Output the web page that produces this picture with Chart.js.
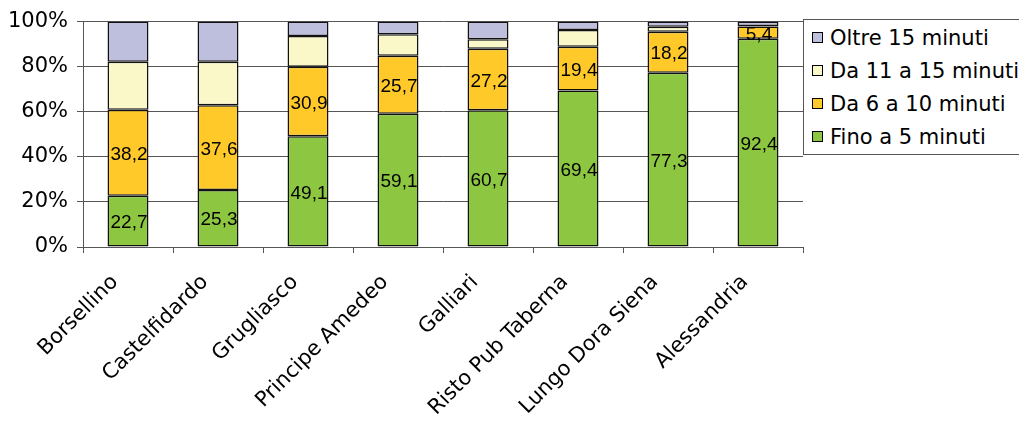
<!DOCTYPE html>
<html>
<head>
<meta charset="utf-8">
<script src="https://cdn.jsdelivr.net/npm/chart.js@4"></script>
<style>
html, body { margin: 0; padding: 0; background: #fff; overflow: hidden; }
#wrap { position: relative; width: 1019px; height: 425px; }
#legend {
    position: absolute; left: 803px; top: 19px; width: 240px; height: 136px;
    border: 1px solid #555; background: #fff; box-sizing: border-box;
    font-family: "DejaVu Sans"; font-size: 21px; color: #000;
}
#legend .row { height: 33px; display: flex; align-items: center; white-space: nowrap; }
#legend .row:first-child { margin-top: 1px; }
#legend .box { width: 9px; height: 9px; border: 1px solid #000; margin: 0 7px 0 8px; }
</style>
</head>
<body>
<div id="wrap">
    <canvas id="chart" width="1019" height="425"></canvas>
    <div id="legend"></div>
</div>
<script>
// categories (stops)
var stops = ["Borsellino", "Castelfidardo", "Grugliasco", "Principe Amedeo", "Galliari", "Risto Pub Taberna", "Lungo Dora Siena", "Alessandria"];

// percent of answers per time band
var fino5 = [22.7, 25.3, 49.1, 59.1, 60.7, 69.4, 77.3, 92.4];
var da6a10 = [38.2, 37.6, 30.9, 25.7, 27.2, 19.4, 18.2, 5.4];
var da11a15 = [21.3, 19.3, 13.6, 9.6, 4.3, 7.5, 2.2, 0.3];
var oltre15 = [17.8, 17.8, 6.4, 5.6, 7.8, 3.7, 2.3, 1.9];

var yTicks = [0, 20, 40, 60, 80, 100];

// draws the value inside the green and orange segments
var barLabels = {
    id: 'barLabels',
    afterDatasetsDraw: function(chart) {
        var ctx = chart.ctx;
        ctx.save();
        ctx.font = '19px "Liberation Sans"';
        ctx.fillStyle = '#000';
        ctx.textAlign = 'center';
        ctx.textBaseline = 'middle';
        chart.data.datasets.forEach(function(ds, i) {
            if (!ds.showValues) return;
            chart.getDatasetMeta(i).data.forEach(function(bar, j) {
                var p = bar.getProps(['x', 'y', 'base'], true);
                ctx.fillText(ds.data[j].toFixed(1).replace('.', ','), p.x + 1, (p.y + p.base) / 2 + 2);
            });
        });
        ctx.restore();
    }
};

var borderCol = '#111';
var chart = new Chart(document.getElementById('chart'), {
    type: 'bar',
    data: {
        labels: stops,
        datasets: [
            { label: 'Fino a 5 minuti', data: fino5, backgroundColor: '#8DC641', showValues: true },
            { label: 'Da 6 a 10 minuti', data: da6a10, backgroundColor: '#FFC929', showValues: true },
            { label: 'Da 11 a 15 minuti', data: da11a15, backgroundColor: '#FAF8C8' },
            { label: 'Oltre 15 minuti', data: oltre15, backgroundColor: '#BEBEDD' }
        ].map(function(d) {
            d.borderColor = borderCol;
            d.borderWidth = 1.5;
            d.borderSkipped = false;
            d.barPercentage = 0.455;
            d.categoryPercentage = 1;
            return d;
        })
    },
    options: {
        responsive: false,
        animation: false,
        layout: { padding: { top: 19, right: 216, left: 0, bottom: 0 } },
        plugins: {
            legend: { display: false },
            tooltip: { enabled: false }
        },
        scales: {
            x: {
                stacked: true,
                grid: { drawOnChartArea: false, drawTicks: true, tickLength: 6, color: '#555' },
                border: { display: true, color: '#555' },
                ticks: {
                    color: '#000', font: { family: 'DejaVu Sans', size: 21 },
                    minRotation: 45, maxRotation: 45, autoSkip: false,
                    labelOffset: -13, padding: 17
                },
                afterFit: function(scale) { scale.height = 178; }
            },
            y: {
                stacked: true, min: 0, max: 100,
                afterBuildTicks: function(scale) {
                    scale.ticks = yTicks.map(function(v) { return { value: v }; });
                },
                grid: { color: '#555', tickLength: 6 },
                border: { display: true, color: '#555' },
                ticks: {
                    color: '#000', font: { family: 'DejaVu Sans', size: 21 }, padding: 9,
                    callback: function(v) { return v + '%'; }
                },
                afterFit: function(scale) { scale.width = 83; }
            }
        }
    },
    plugins: [barLabels]
});

// legend, listed top band first like the stacking
var legend = document.getElementById('legend');
chart.data.datasets.slice().reverse().forEach(function(ds) {
    var row = document.createElement('div');
    row.className = 'row';
    var box = document.createElement('span');
    box.className = 'box';
    box.style.background = ds.backgroundColor;
    row.appendChild(box);
    row.appendChild(document.createTextNode(ds.label));
    legend.appendChild(row);
});
</script>
</body>
</html>
